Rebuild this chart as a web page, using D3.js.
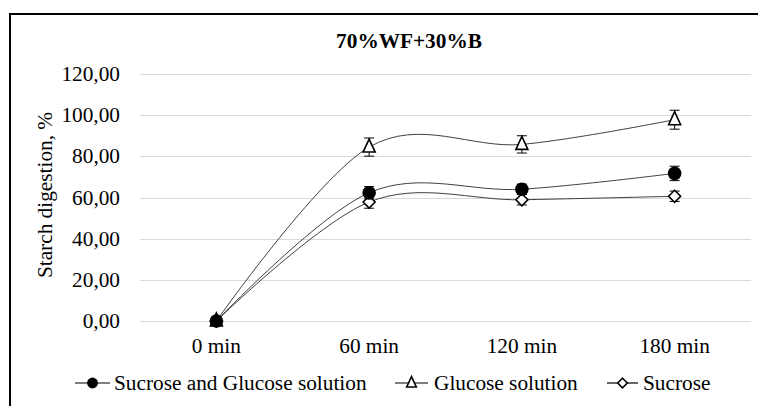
<!DOCTYPE html>
<meta charset="utf-8">
<style>
body { margin: 0; background: #fff; }
.grid line { stroke: #d9d9d9; stroke-width: 1; }
</style>
<svg id="chart"></svg>
<script src="https://d3js.org/d3.v7.min.js"></script>
<script>

var categories = ["0 min", "60 min", "120 min", "180 min"];
var yTicks = [0, 20, 40, 60, 80, 100, 120];

var sucGlu = [0, 62.3, 64, 71.7];
var sucGluErr = [0, 3, 2.5, 3.5];
var glu = [0, 84.5, 85.8, 97.8];
var gluErr = [0, 4.4, 4.2, 4.6];
var suc = [0, 57.8, 58.9, 60.6];
var sucErr = [0, 3, 2.5, 2.5];

var seriesNames = ["Sucrose and Glucose solution", "Glucose solution", "Sucrose"];

var width = 758, height = 406;
var plotLeft = 140, plotRight = 751, plotTop = 74, plotBottom = 321;
var serif = "'Liberation Serif', 'Times New Roman', serif";
var fontSize = "21.3px";

var svg = d3.select("#chart").attr("width", width).attr("height", height);

// chart border (cut off at right and bottom like the reference)
svg.append("path")
    .attr("d", "M10," + height + "V14H" + width)
    .attr("fill", "none")
    .attr("stroke", "#000")
    .attr("stroke-width", 2);

var x = d3.scaleBand().domain(categories).range([plotLeft, plotRight]);
var y = d3.scaleLinear().domain([0, 120]).range([plotBottom, plotTop]);

var cx = function(i) { return x(categories[i]) + x.bandwidth() / 2; };

// gridlines
svg.append("g").attr("class", "grid")
  .selectAll("line").data(yTicks).enter().append("line")
    .attr("x1", plotLeft).attr("x2", plotRight)
    .attr("y1", function(d) { return Math.round(y(d)) + 0.5; })
    .attr("y2", function(d) { return Math.round(y(d)) + 0.5; });

// y labels
svg.append("g").selectAll("text").data(yTicks).enter().append("text")
    .attr("x", 120)
    .attr("y", function(d) { return y(d); })
    .attr("dy", "0.33em")
    .attr("text-anchor", "end")
    .style("font-family", serif)
    .style("font-size", fontSize)
    .text(function(d) { return d3.format(".2f")(d).replace(".", ","); });

// x labels
svg.append("g").selectAll("text").data(categories).enter().append("text")
    .attr("x", function(d, i) { return cx(i); })
    .attr("y", 353)
    .attr("text-anchor", "middle")
    .style("font-family", serif)
    .style("font-size", fontSize)
    .text(function(d) { return d; });

// title
svg.append("text")
    .attr("x", 409).attr("y", 48)
    .attr("text-anchor", "middle")
    .style("font-family", serif)
    .style("font-size", fontSize)
    .style("font-weight", "bold")
    .text("70%WF+30%B");

// axis title
svg.append("text")
    .attr("transform", "translate(52," + 195 + ") rotate(-90)")
    .attr("text-anchor", "middle")
    .style("font-family", serif)
    .style("font-size", fontSize)
    .text("Starch digestion, %");

var line = d3.line()
    .x(function(d, i) { return cx(i); })
    .y(function(d) { return y(d); })
    .curve(d3.curveCardinal.tension(0));

// drawn in this order so the filled circles sit on top
var series = [
  { values: glu, err: gluErr, marker: "triangle" },
  { values: suc, err: sucErr, marker: "diamond" },
  { values: sucGlu, err: sucGluErr, marker: "circle" }
];

function drawMarker(g, type, px, py, k) {
  k = k || 1;
  if (type === "circle") {
    g.append("circle").attr("cx", px).attr("cy", py).attr("r", 6.8 * k).attr("fill", "#000");
  } else if (type === "triangle") {
    g.append("path")
        .attr("d", "M" + px + "," + (py - 8 * k) + "L" + (px + 6 * k) + "," + (py + 5 * k) + "L" + (px - 6 * k) + "," + (py + 5 * k) + "Z")
        .attr("fill", "#fff").attr("stroke", "#000").attr("stroke-width", 1.6);
  } else {
    g.append("path")
        .attr("d", "M" + px + "," + (py - 6 * k) + "L" + (px + 6 * k) + "," + py + "L" + px + "," + (py + 6 * k) + "L" + (px - 6 * k) + "," + py + "Z")
        .attr("fill", "#fff").attr("stroke", "#000").attr("stroke-width", 1.6);
  }
}

series.forEach(function(s) {
  svg.append("path")
      .datum(s.values)
      .attr("d", line)
      .attr("fill", "none")
      .attr("stroke", "#404040")
      .attr("stroke-width", 1);
});

series.forEach(function(s) {
  var g = svg.append("g");
  s.values.forEach(function(v, i) {
    var e = s.err[i];
    if (e > 0) {
      var px = cx(i);
      g.append("path")
          .attr("d", "M" + px + "," + y(v - e) + "V" + y(v + e) +
                     "M" + (px - 5) + "," + y(v + e) + "H" + (px + 5) +
                     "M" + (px - 5) + "," + y(v - e) + "H" + (px + 5))
          .attr("stroke", "#000").attr("stroke-width", 1).attr("fill", "none");
    }
  });
  s.values.forEach(function(v, i) {
    drawMarker(g, s.marker, cx(i), y(v));
  });
});

// legend
var legend = [
  { name: seriesNames[0], marker: "circle", x1: 75, x2: 110, tx: 114 },
  { name: seriesNames[1], marker: "triangle", x1: 395, x2: 428, tx: 434 },
  { name: seriesNames[2], marker: "diamond", x1: 607, x2: 638, tx: 643 }
];
legend.forEach(function(l) {
  var g = svg.append("g");
  g.append("line").attr("x1", l.x1).attr("x2", l.x2)
      .attr("y1", 383).attr("y2", 383)
      .attr("stroke", "#000").attr("stroke-width", 1.2);
  drawMarker(g, l.marker, (l.x1 + l.x2) / 2, 383, 0.8);
  g.append("text").attr("x", l.tx).attr("y", 383).attr("dy", "0.33em")
      .style("font-family", serif)
      .style("font-size", fontSize)
      .text(l.name);
});

</script>
